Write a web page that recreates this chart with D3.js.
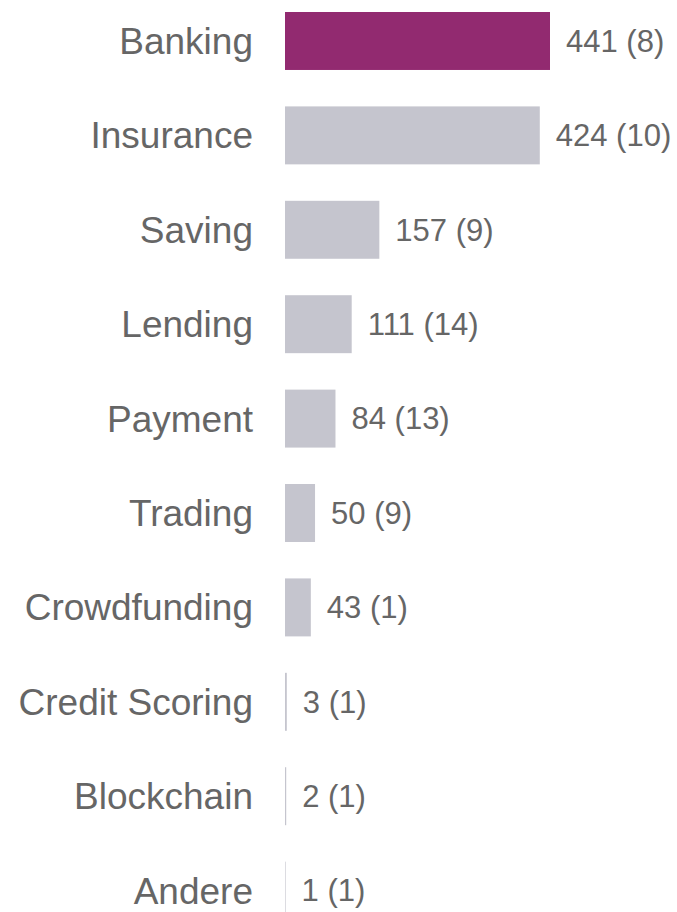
<!DOCTYPE html>
<html><head><meta charset="utf-8">
<script src="https://cdn.jsdelivr.net/npm/d3@7"></script>
<style>html,body{margin:0;padding:0;background:#fff;} text{font-family:"Liberation Sans", Arial, sans-serif;}</style>
</head><body>
<script>
const categories = ["Banking","Insurance","Saving","Lending","Payment","Trading","Crowdfunding","Credit Scoring","Blockchain","Andere"];
const values = [441,424,157,111,84,50,43,3,2,1];
const counts = [8,10,9,14,13,9,1,1,1,1];
const highlight = "Banking";

const W = 677, H = 912;
const svg = d3.select("body").append("svg").attr("width", W).attr("height", H);
const x = d3.scaleLinear().domain([0, 441]).range([285, 550]);
const y = d3.scaleBand().domain(categories).range([12, 919.6]).paddingInner(0.386).paddingOuter(0);

const rows = svg.selectAll("g.row").data(categories).enter().append("g");
rows.append("rect")
  .attr("x", x(0))
  .attr("y", d => y(d))
  .attr("width", (d,i) => x(values[i]) - x(0))
  .attr("height", y.bandwidth())
  .attr("fill", d => d === highlight ? "#922A70" : "#C5C5CE");
rows.append("text")
  .attr("x", 253)
  .attr("y", d => y(d) + y.bandwidth()/2)
  .attr("dy", "0.35em")
  .attr("text-anchor", "end")
  .attr("font-size", 37)
  .attr("fill", "#666666")
  .text(d => d);
rows.append("text")
  .attr("x", (d,i) => x(values[i]) + 16)
  .attr("y", d => y(d) + y.bandwidth()/2)
  .attr("dy", "0.35em")
  .attr("font-size", 31)
  .attr("fill", "#666666")
  .text((d,i) => `${values[i]} (${counts[i]})`);
</script>
</body></html>
